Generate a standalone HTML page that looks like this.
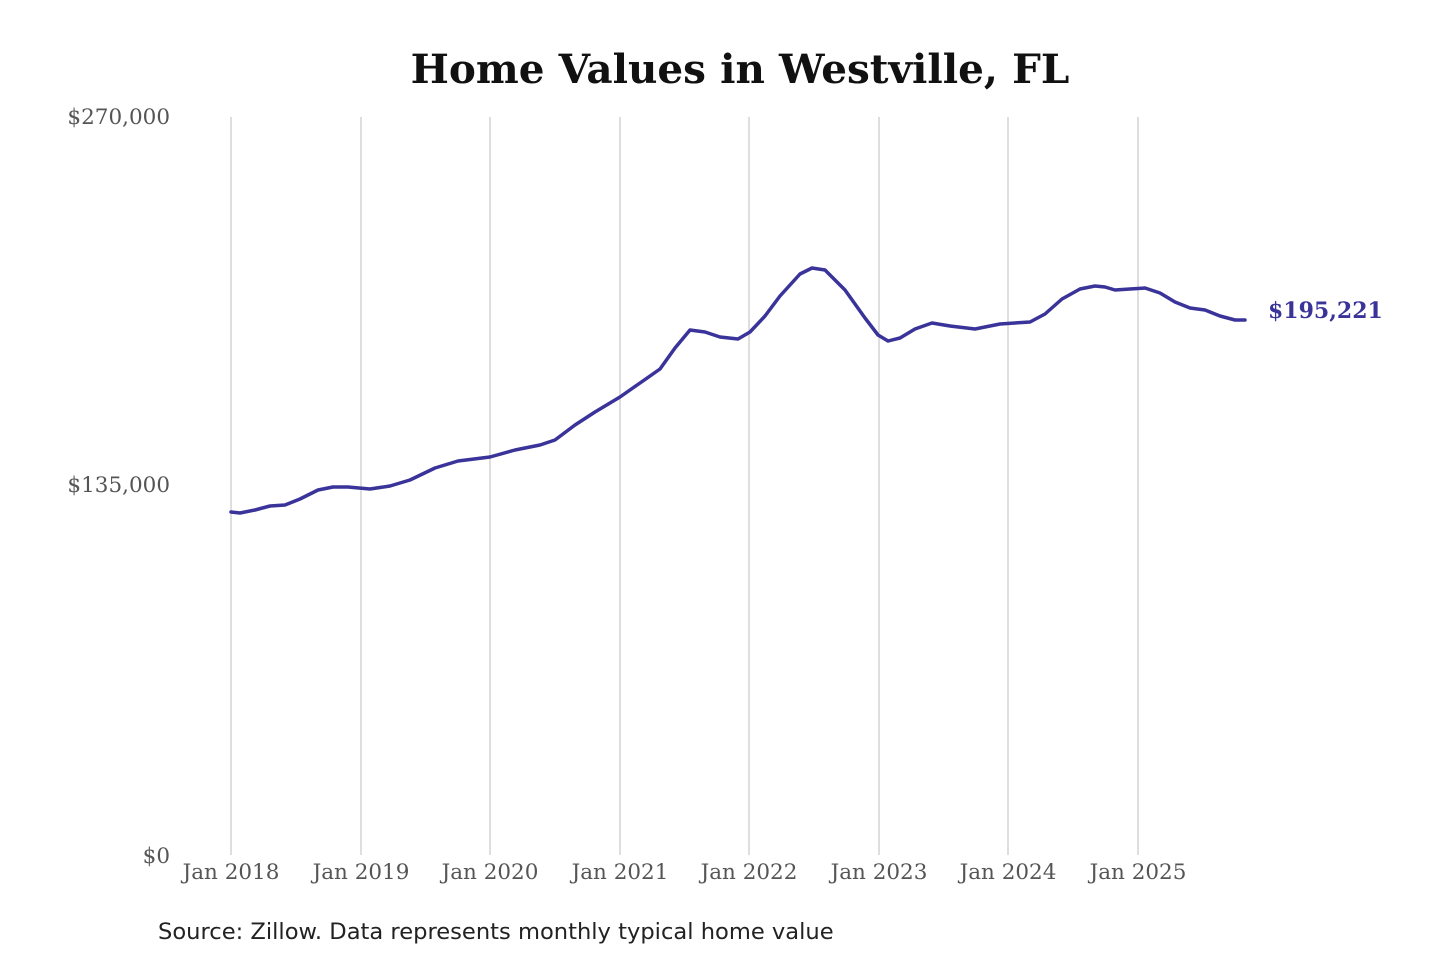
<!DOCTYPE html>
<html><head><meta charset="utf-8"><style>
html,body{margin:0;padding:0;background:#fff;width:1440px;height:960px;overflow:hidden}
</style></head><body>
<svg width="1440" height="960" xmlns="http://www.w3.org/2000/svg">
<text x="740" y="83" text-anchor="middle" font-family="DejaVu Serif, Liberation Serif, serif" font-weight="bold" font-size="40.5" fill="#111">Home Values in Westville, FL</text>
<g stroke="#bdbdbd" stroke-width="1">
<line x1="231" y1="117" x2="231" y2="855"/>
<line x1="361" y1="117" x2="361" y2="855"/>
<line x1="490" y1="117" x2="490" y2="855"/>
<line x1="620" y1="117" x2="620" y2="855"/>
<line x1="749" y1="117" x2="749" y2="855"/>
<line x1="879" y1="117" x2="879" y2="855"/>
<line x1="1008" y1="117" x2="1008" y2="855"/>
<line x1="1138" y1="117" x2="1138" y2="855"/>
</g>
<g font-family="DejaVu Serif, Liberation Serif, serif" font-size="21.5" fill="#555">
<text x="170" y="124" text-anchor="end">$270,000</text>
<text x="170" y="492" text-anchor="end">$135,000</text>
<text x="170" y="863" text-anchor="end">$0</text>
<g text-anchor="middle">
<text x="231" y="879">Jan 2018</text>
<text x="361" y="879">Jan 2019</text>
<text x="490" y="879">Jan 2020</text>
<text x="620" y="879">Jan 2021</text>
<text x="749" y="879">Jan 2022</text>
<text x="879" y="879">Jan 2023</text>
<text x="1008" y="879">Jan 2024</text>
<text x="1138" y="879">Jan 2025</text>
</g></g>
<polyline fill="none" stroke="#3a3399" stroke-width="3.5" stroke-linejoin="round" stroke-linecap="round" points="231,512 240,513 255,510 270,506 285,505 300,499 318,490 333,487 348,487 370,489 390,486 410,480 435,468 458,461 490,457 515,450 540,445 555,440 575,425 595,412 620,397 640,383 660,369 675,348 690,330 705,332 720,337 738,339 750,332 765,316 780,296 800,274 812,268 825,270 845,290 865,318 878,335 888,341 900,338 915,329 932,323 950,326 975,329 1000,324 1015,323 1030,322 1045,314 1062,299 1080,289 1095,286 1105,287 1115,290 1130,289 1145,288 1160,293 1175,302 1190,308 1205,310 1220,316 1235,320 1245,320"/>
<text x="1268" y="318" font-family="DejaVu Serif, Liberation Serif, serif" font-weight="bold" font-size="22" fill="#3a3399">$195,221</text>
<text x="158" y="939" font-family="DejaVu Sans, Liberation Sans, sans-serif" font-size="22.6" fill="#222">Source: Zillow. Data represents monthly typical home value</text>
</svg>
</body></html>
